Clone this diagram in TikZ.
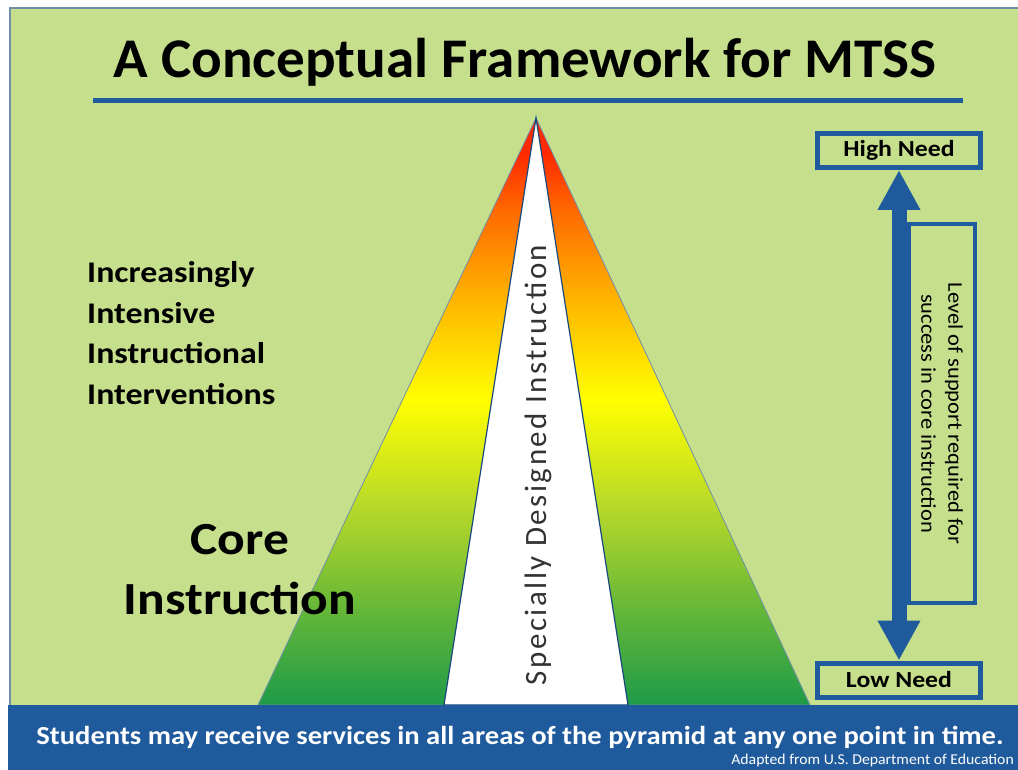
\documentclass[tikz,border=0pt]{standalone}
\usepackage{fontspec}
\setmainfont{Carlito}
\usetikzlibrary{arrows.meta}
\usetikzlibrary{positioning}
\definecolor{mgreen}{HTML}{C6DF8C}
\definecolor{mblue}{HTML}{1F5A9C}
\definecolor{mframe}{HTML}{6F8FA8}
\definecolor{pgA}{HTML}{1E9B48}
\definecolor{pgB}{HTML}{6DBA36}
\definecolor{pgC}{HTML}{B8D929}
\definecolor{pgD}{HTML}{FFFF00}
\definecolor{pgE}{HTML}{FFB000}
\definecolor{pgF}{HTML}{FF6A00}
\definecolor{pgG}{HTML}{FF2A00}
% tikz stretches the band 25bp--75bp over the path
\pgfdeclareverticalshading{pyramid}{100bp}{color(0bp)=(pgA); color(25bp)=(pgA); color(34bp)=(pgB); color(42bp)=(pgC); color(51bp)=(pgD); color(60bp)=(pgE); color(67bp)=(pgF); color(72bp)=(pgG); color(100bp)=(pgG)}
\newcommand{\wide}[1]{\addfontfeatures{FakeStretch=#1}}
\tikzset{needbox/.style = {draw = mblue, line width = 5, minimum width = 163, minimum height = 34,
    inner sep = 0, font = \fontsize{23}{26}\selectfont\bfseries\wide{1.12}}}
\tikzset{sidetext/.style = {font = \fontsize{30}{40.5}\selectfont\bfseries\wide{1.13}, align = left, inner sep = 0}}

\begin{document}
\begin{tikzpicture}[x = 1pt, y = -1pt]
    \useasboundingbox (0, 0) rectangle (1018, 770);
    \clip (0, 0) rectangle (1018, 770);
    \fill [white] (0, 0) rectangle (1018, 770);
    \draw [mframe, fill = mgreen, line width = 1.2] (10, 8) rectangle (1030, 710);

    % title
    \node (title) at (525, 62) {\fontsize{56}{60}\selectfont\bfseries\wide{1.02}A Conceptual Framework for MTSS};
    \draw [mblue, line width = 5] (93, 101) -- (963, 101);

    % pyramid
    \coordinate (apex) at (536, 118);
    \shade [shading = pyramid, draw = mframe, line width = 0.8] (apex) -- (810, 705) -- (258, 705) -- cycle;
    \draw [fill = white, draw = mblue!80!black, line width = 1.2] (apex) -- (628, 705) -- (444, 705) -- cycle;
    \node [rotate = 90, text = black!80, inner sep = 0] (sdi) at (538, 465)
      {\fontsize{31}{33}\selectfont\addfontfeatures{LetterSpace=8}Specially Designed Instruction};

    % left labels
    \node [sidetext, anchor = west] (intensive) at (87, 333)
      {Increasingly\\Intensive\\Instructional\\Interventions};
    \node [sidetext, align = center, font = \fontsize{46}{60}\selectfont\bfseries\wide{1.12}] (core) at (240, 570)
      {Core\\Instruction};

    % need scale
    \node [needbox] (high) at (899, 150.5) {High Need};
    \node [needbox] (low) at (899, 680) {Low Need};
    \draw [mblue, line width = 15, {Triangle[width = 40, length = 40]}-{Triangle[width = 40, length = 40]}]
      (high.south) -- (low.north);
    \node [draw = mblue, line width = 4, rotate = -90, minimum width = 379, minimum height = 66,
      inner sep = 0, align = center, font = \fontsize{21}{27}\selectfont\wide{1.07}] (support) at (942, 413.5)
      {Level of support required for\\success in core instruction};

    % banner
    \fill [mblue] (8, 705) rectangle (1018, 770);
    \node [text = white, font = \fontsize{26}{28}\selectfont\bfseries\wide{1.1}] (note) at (520, 737)
      {Students may receive services in all areas of the pyramid at any one point in time.};
    \node [text = white, anchor = east, inner sep = 0, font = \fontsize{15}{17}\selectfont\wide{1.05}] (source) at (1014, 760)
      {Adapted from U.S. Department of Education};
  \end{tikzpicture}
\end{document}
